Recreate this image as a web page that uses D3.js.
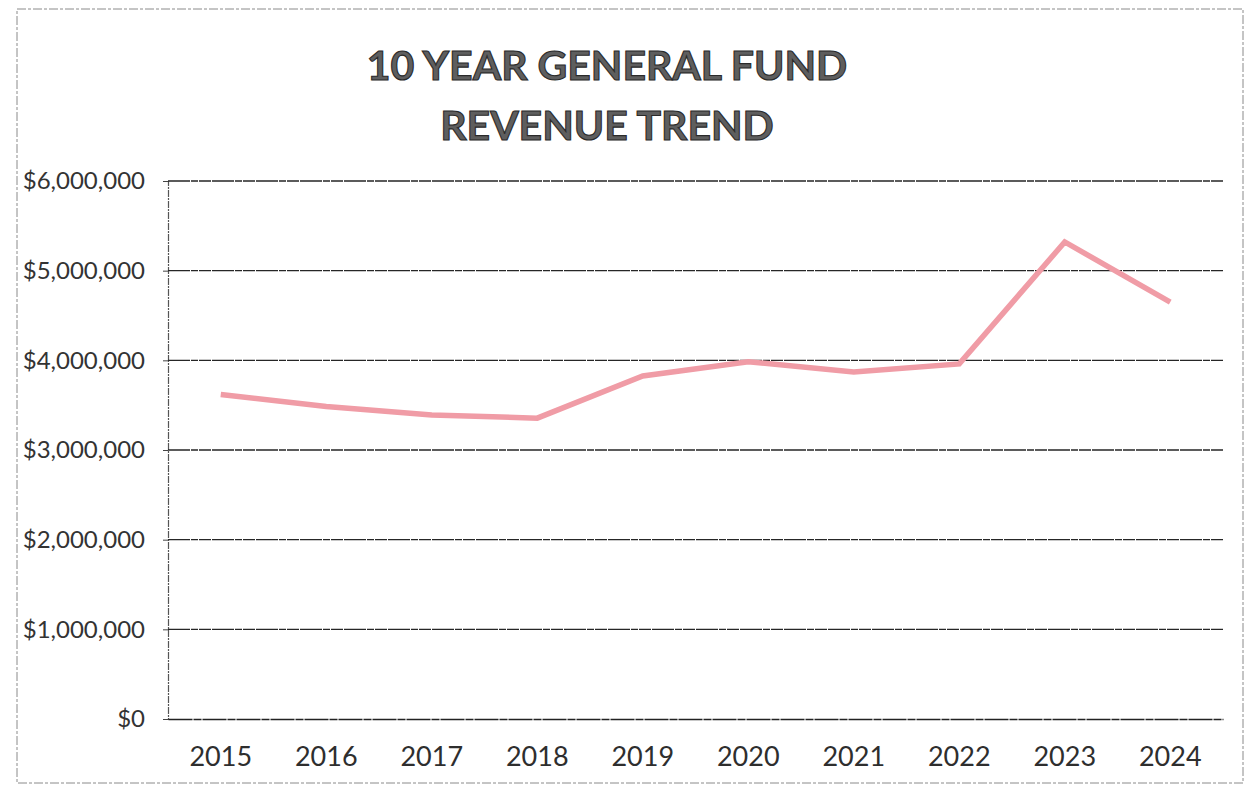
<!DOCTYPE html>
<html>
<head>
<meta charset="utf-8">
<script src="https://cdn.jsdelivr.net/npm/d3@7"></script>
<style>
  html, body { margin: 0; padding: 0; background: #ffffff; }
  svg { display: block; }
</style>
</head>
<body>
<svg id="chart" width="1249" height="789"></svg>
<script>
// General fund revenue by fiscal year
const years = ["2015", "2016", "2017", "2018", "2019", "2020", "2021", "2022", "2023", "2024"];
const revenue = [3620000, 3485000, 3390000, 3355000, 3825000, 3985000, 3870000, 3960000, 5320000, 4650000];
const yTicks = [0, 1000000, 2000000, 3000000, 4000000, 5000000, 6000000];
const titleLines = ["10 YEAR GENERAL FUND", "REVENUE TREND"];

const plot = { left: 168, right: 1223, top: 181, bottom: 719 };

const svg = d3.select("#chart");

// outer chart frame
svg.append("rect")
  .attr("x", 17).attr("y", 9)
  .attr("width", 1226).attr("height", 774)
  .attr("fill", "none")
  .attr("stroke", "#8a8a8a")
  .attr("stroke-width", 1)
  .attr("stroke-dasharray", "9 2 3 2");

const x = d3.scaleBand().domain(years).range([plot.left, plot.right]);
const y = d3.scaleLinear().domain([0, 6000000]).range([plot.bottom, plot.top]);

// title
svg.append("g").selectAll("text")
  .data(titleLines)
  .join("text")
  .attr("x", 607)
  .attr("y", (d, i) => 80 + i * 60)
  .attr("text-anchor", "middle")
  .attr("font-family", "Lato, 'Open Sans', sans-serif")
  .attr("font-weight", 700)
  .attr("font-size", 41)
  .attr("fill", "#5e5e5e")
  .attr("stroke", "#2a2a2a")
  .attr("stroke-width", 1.1)
  .text(d => d);

// value axis with labels and small ticks
const yAxis = d3.axisLeft(y)
  .tickValues(yTicks)
  .tickSize(5)
  .tickPadding(18)
  .tickFormat(d => "$" + d3.format(",")(d));

const gy = svg.append("g")
  .attr("transform", `translate(${plot.left},0)`)
  .call(yAxis);
gy.select(".domain")
  .attr("stroke", "#555")
  .attr("stroke-width", 1.2)
  .attr("stroke-dasharray", "7 1 2 1");
gy.selectAll(".tick line").attr("stroke", "#444");
gy.selectAll(".tick text")
  .attr("font-family", "Lato, 'Open Sans', sans-serif")
  .attr("font-size", 24)
  .attr("fill", "#333");

// horizontal gridlines
svg.append("g").selectAll("line")
  .data(yTicks.filter(d => d > 0))
  .join("line")
  .attr("x1", plot.left).attr("x2", plot.right)
  .attr("y1", d => y(d)).attr("y2", d => y(d))
  .attr("stroke", "#262626")
  .attr("stroke-width", 1.4)
  .attr("stroke-dasharray", "22 1 7 1 12 1");

// category axis
const xAxis = d3.axisBottom(x).tickSize(0).tickPadding(28);
const gx = svg.append("g")
  .attr("transform", `translate(0,${plot.bottom})`)
  .call(xAxis);
gx.select(".domain")
  .attr("stroke", "#222")
  .attr("stroke-width", 1.7)
  .attr("stroke-dasharray", "24 1 8 1");
gx.selectAll(".tick text")
  .attr("font-family", "Lato, 'Open Sans', sans-serif")
  .attr("font-size", 27)
  .attr("fill", "#2e2e2e");

// revenue line
const line = d3.line()
  .x((d, i) => x(years[i]) + x.bandwidth() / 2)
  .y(d => y(d));

svg.append("path")
  .datum(revenue)
  .attr("d", line)
  .attr("fill", "none")
  .attr("stroke", "#f09ca6")
  .attr("stroke-width", 5.5)
  .attr("stroke-linejoin", "miter")
  .attr("stroke-linecap", "butt");
</script>
</body>
</html>
